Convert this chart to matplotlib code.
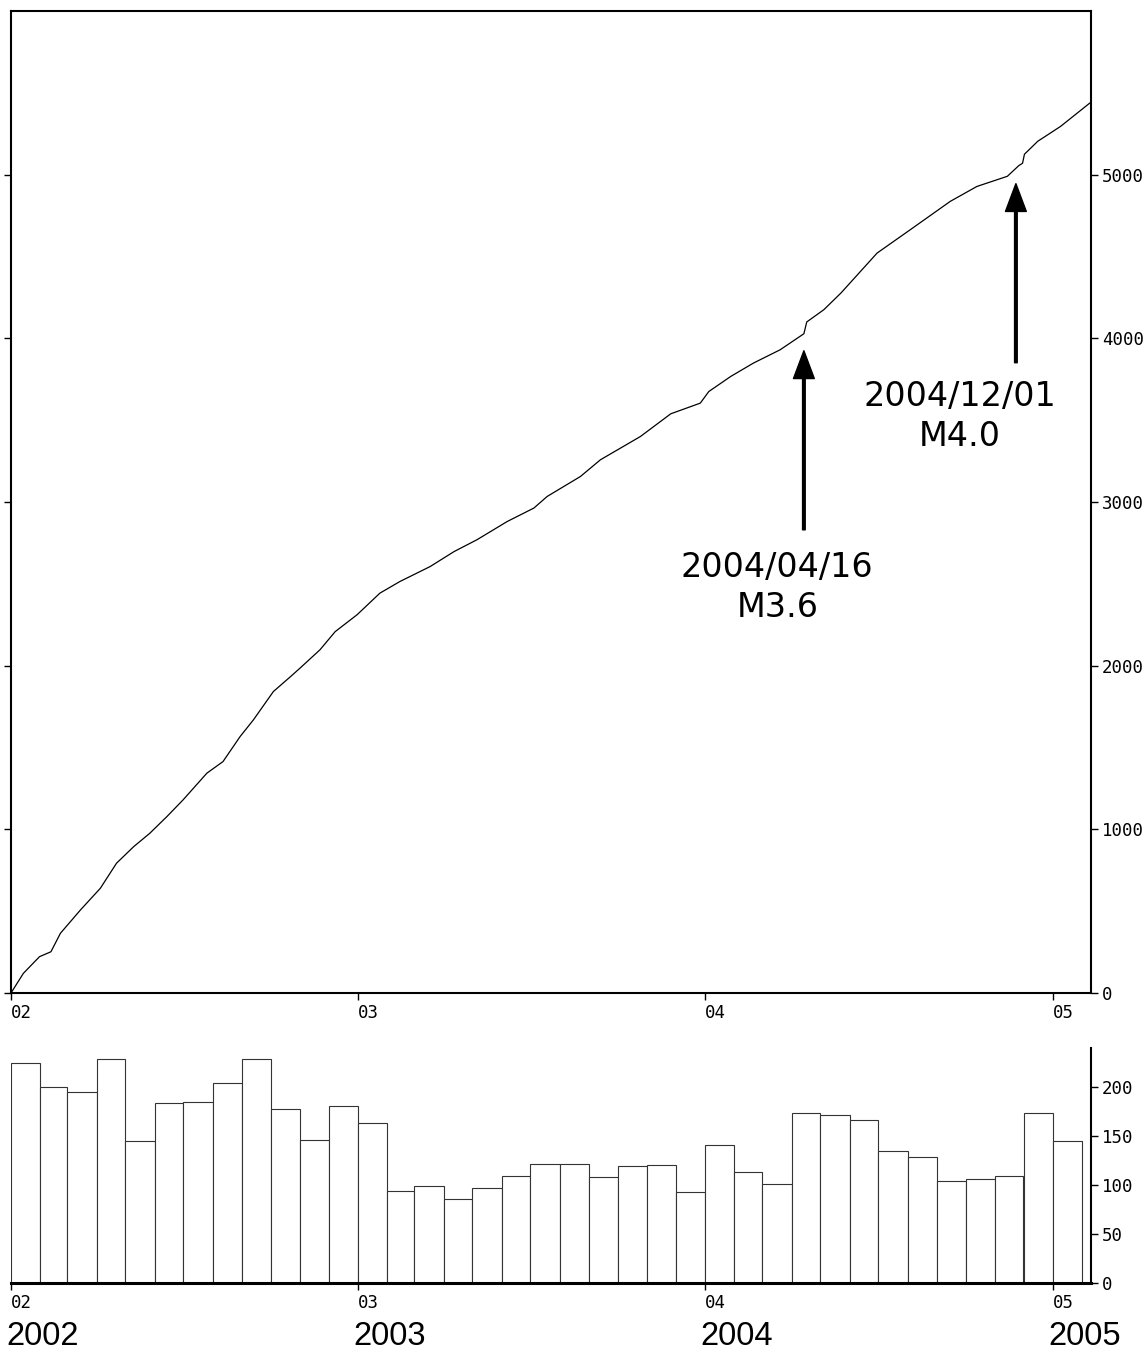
import numpy as np
import matplotlib
matplotlib.use("Agg")
import matplotlib.pyplot as plt
import matplotlib.dates as mdates
import matplotlib.transforms as mtransforms

# monthly event counts, Jan 2002 .. Jan 2005
month_start = np.arange(np.datetime64("2002-01"), np.datetime64("2005-02"),
                        np.timedelta64(1, "M")).astype("datetime64[D]")
month_count = [225, 200, 195, 229, 145, 184, 185, 204, 229, 178, 146, 181,
               163, 94, 99, 86, 97, 109, 122, 122, 108, 120, 121, 93,
               141, 113, 101, 174, 172, 166, 135, 129, 104, 106, 109, 174,
               145]

# cumulative count (days since 2002-01-01)
cum_day = [0, 13, 30, 42, 52, 73, 94, 111, 129, 146, 164, 181, 206, 223, 241,
           255, 276, 294, 304, 325, 341, 364, 388, 409, 441, 466, 490, 522,
           550, 564, 599, 620, 662, 694, 725, 734, 757, 781, 809, 834, 837,
           855, 873, 911, 946, 988, 1016, 1048, 1060, 1064, 1066, 1080, 1104,
           1137]
cum_count = [0, 120, 222, 252, 365, 507, 640, 793, 894, 976, 1078, 1180, 1343,
             1414, 1567, 1669, 1842, 1933, 1985, 2097, 2208, 2311, 2443, 2514,
             2606, 2697, 2769, 2881, 2963, 3034, 3156, 3258, 3400, 3539, 3604,
             3675, 3767, 3849, 3930, 4028, 4100, 4175, 4277, 4521, 4664, 4837,
             4928, 4990, 5055, 5070, 5125, 5204, 5295, 5448]

year_ticks = ["2002-01-01", "2003-01-01", "2004-01-01", "2005-01-01"]
year_short = ["02", "03", "04", "05"]
year_long = ["2002", "2003", "2004", "2005"]

events = [("2004-04-14", 3924, 2830, "2004-03-17", 2700, "2004/04/16\nM3.6"),
          ("2004-11-23", 4945, 3851, "2004-09-25", 3745, "2004/12/01\nM4.0")]

t0 = np.datetime64("2002-01-01")
t_end = np.datetime64("2005-02-10")
cum_t = t0 + np.array(cum_day).astype("timedelta64[D]")
month_end = np.append(month_start[1:], np.datetime64("2005-02-01"))
month_w = (month_end - month_start).astype(float)
yt = mdates.date2num(np.array(year_ticks, dtype="datetime64[D]"))

mono = "DejaVu Sans Mono"
W, H = 1147, 1351
fig = plt.figure(figsize=(W / 100, H / 100), dpi=100)

ax = fig.add_axes([11 / W, 1 - 993 / H, 1080 / W, 982 / H])
ax.plot(cum_t, cum_count, color="black", lw=0.9)
ax.set_xlim(mdates.date2num(t0), mdates.date2num(t_end))
ax.set_ylim(0, 6000)
ax.set_yticks([0, 1000, 2000, 3000, 4000, 5000])
ax.set_xticks(yt)
ax.set_xticklabels(year_short)
for s in ax.spines.values():
    s.set_linewidth(1.5)
ax.tick_params(axis="y", left=True, right=True, labelleft=False,
               labelright=True, direction="out", length=5, width=1, pad=3)
ax.tick_params(axis="x", direction="out", length=5, width=1, pad=3)
for lab in ax.get_xticklabels() + ax.get_yticklabels():
    lab.set_fontfamily(mono)
    lab.set_fontsize(12.5)
for lab in ax.get_xticklabels():
    lab.set_ha("left")

for tip_d, tip_v, base_v, txt_d, txt_v, txt in events:
    xd = mdates.date2num(np.datetime64(tip_d))
    ax.annotate("", xy=(xd, tip_v), xytext=(xd, base_v),
                arrowprops=dict(facecolor="black", edgecolor="black",
                                width=1.9, headwidth=15, headlength=20,
                                shrink=0))
    ax.text(mdates.date2num(np.datetime64(txt_d)), txt_v, txt, ha="center",
            va="top", fontsize=24, family="DejaVu Sans", linespacing=1.25)

bx = fig.add_axes([11 / W, 1 - 1283 / H, 1080 / W, 235 / H])
bx.bar(month_start, month_count, width=month_w, align="edge",
       color="white", edgecolor="#333333", linewidth=0.8)
bx.set_xlim(mdates.date2num(t0), mdates.date2num(t_end))
bx.set_ylim(0, 240)
bx.set_yticks([0, 50, 100, 150, 200])
bx.set_xticks(yt)
bx.set_xticklabels(year_short)
bx.spines["top"].set_visible(False)
bx.spines["left"].set_visible(False)
bx.spines["bottom"].set_linewidth(2.2)
bx.spines["right"].set_linewidth(1.5)
bx.tick_params(axis="y", left=False, right=True, labelleft=False,
               labelright=True, direction="out", length=5, width=1, pad=3)
bx.tick_params(axis="x", direction="out", length=5, width=1, pad=3)
for lab in bx.get_xticklabels() + bx.get_yticklabels():
    lab.set_fontfamily(mono)
    lab.set_fontsize(12.5)
for lab in bx.get_xticklabels():
    lab.set_ha("left")

# big year labels under the bars
shift = mtransforms.ScaledTranslation(-5 / 100, 0, fig.dpi_scale_trans)
for x, lab in zip(yt, year_long):
    bx.text(x, -0.265, lab, transform=bx.get_xaxis_transform() + shift,
            ha="left", va="baseline", fontsize=23.5, family="Liberation Sans")

fig.savefig("out.png", dpi=100)
